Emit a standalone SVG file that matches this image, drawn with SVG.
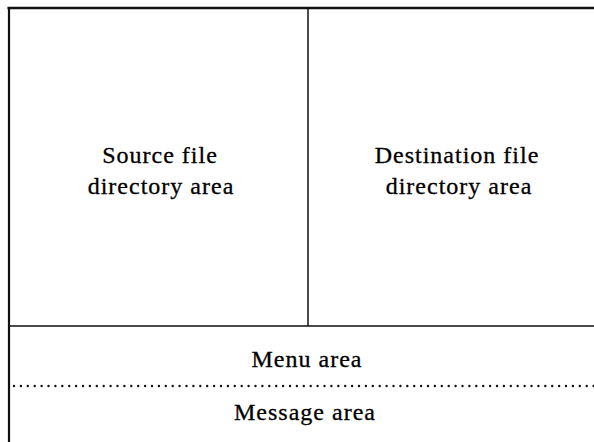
<svg xmlns="http://www.w3.org/2000/svg" width="594" height="442" viewBox="0 0 594 442">
<style>
.t{font-family:"Liberation Serif","Times New Roman",serif;font-size:24px;letter-spacing:1px;fill:#000;stroke:#000;stroke-width:0.3px;text-anchor:middle}
.ln{stroke:#111;fill:none}
</style>
<rect x="0" y="0" width="594" height="442" fill="#fff"/>
<g id="frame">
<line class="ln" x1="7.5" y1="8" x2="594" y2="8" stroke-width="2.5"/>
<line class="ln" x1="9" y1="7" x2="9" y2="442" stroke-width="2.2"/>
<line class="ln" x1="308" y1="8" x2="308" y2="326" stroke-width="1.5"/>
<line class="ln" x1="9" y1="326" x2="594" y2="326" stroke-width="1.6"/>
<line class="ln" x1="14" y1="386" x2="594" y2="386" stroke-width="2.4" stroke-dasharray="0 6.9" stroke-linecap="round"/>
</g>
<g id="source">
<text class="t" x="160" y="163">Source file</text>
<text class="t" x="161" y="194">directory area</text>
</g>
<g id="destination">
<text class="t" x="457" y="163">Destination file</text>
<text class="t" x="459" y="194">directory area</text>
</g>
<g id="menu">
<text class="t" x="307" y="367">Menu area</text>
</g>
<g id="message">
<text class="t" x="305" y="420">Message area</text>
</g>
</svg>
